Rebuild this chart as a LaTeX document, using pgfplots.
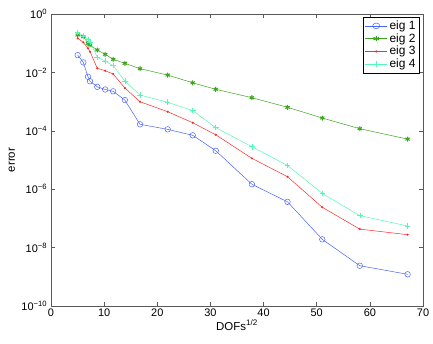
\documentclass[border=0pt]{standalone}
\usepackage{fontspec}
\setmainfont{Liberation Sans}
\usepackage{pgfplots}
\pgfplotsset{compat=1.18}
\definecolor{cb}{RGB}{70,100,255}
\definecolor{cg}{RGB}{60,165,30}
\definecolor{cr}{RGB}{255,40,40}
\definecolor{cc}{RGB}{80,250,180}
\begin{document}
\fontsize{11}{13}\selectfont
\begin{tikzpicture}
\begin{axis}[name=ax,
  scale only axis, width=372bp, height=292bp,
  ymode=log, xmin=0, xmax=70, ymin=1e-10, ymax=1,
  xtick={0,10,...,70},
  ytick={1,1e-2,1e-4,1e-6,1e-8,1e-10},
  yticklabels={10\textsuperscript{0},10\textsuperscript{−2},10\textsuperscript{−4},10\textsuperscript{−6},10\textsuperscript{−8},10\textsuperscript{−10}},
  minor ytick={}, yminorticks=false,
  tick align=inside, tick pos=both,
  major tick length=4bp,
  axis line style={gray!70!black, line width=0.6pt},
  every tick/.style={gray!70!black, line width=0.5pt},
  /pgf/number format/assume math mode=true,
  ticklabel style={font=\fontsize{11}{13}\selectfont},
  xticklabel style={yshift=1bp},
  xlabel={DOFs\textsuperscript{1/2}}, ylabel={error},
  label style={font=\fontsize{11.5}{13}\selectfont},
  xlabel style={yshift=4bp},
  ylabel style={yshift=-1bp},
  legend style={font=\fontsize{12}{14}\selectfont, draw=black, line width=0.6pt, inner sep=1.5pt, row sep=-1.5pt, at={(0.99,0.99)}, anchor=north east},
  legend image post style={xscale=1.3},
  legend cell align=left,
]
\addplot[cb, line width=0.5pt, mark=o, mark size=2.8pt, mark options={line width=0.5pt}] coordinates {
(5.02,3.9e-2)(6.08,2.2e-2)(6.96,7.1e-3)(7.34,5.0e-3)(8.71,3.2e-3)(10.2,2.6e-3)(11.7,2.25e-3)(13.9,1.13e-3)(16.75,1.67e-4)(21.96,1.12e-4)(26.67,7.0e-5)(31.0,2.08e-5)(37.8,1.48e-6)(44.5,3.7e-7)(51.05,1.92e-8)(58.1,2.4e-9)(67.1,1.22e-9)};
\addlegendentry{eig 1}
\addplot[cg, line width=0.5pt, mark=asterisk, mark size=2.5pt, mark options={line width=1pt}] coordinates {
(5.02,0.191)(6.08,0.167)(6.96,0.099)(7.34,0.0868)(8.71,0.0585)(10.2,0.0417)(11.7,0.0281)(13.9,0.0205)(16.75,0.0134)(21.96,8.1e-3)(26.67,4.4e-3)(31.0,2.64e-3)(37.8,1.36e-3)(44.5,6.4e-4)(51.05,2.74e-4)(58.1,1.18e-4)(67.1,5.2e-5)};
\addlegendentry{eig 2}
\addplot[cr, line width=0.5pt, mark=*, mark size=0.8pt] coordinates {
(5.02,0.147)(6.08,0.107)(6.96,0.0669)(7.34,0.0512)(8.71,0.0138)(10.2,0.0114)(11.7,8.8e-3)(13.9,2.92e-3)(16.75,9.9e-4)(21.96,4.5e-4)(26.67,1.89e-4)(31.0,7.3e-5)(37.8,1.14e-5)(44.5,2.68e-6)(51.05,2.4e-7)(58.1,4.3e-8)(67.1,2.77e-8)};
\addlegendentry{eig 3}
\addplot[cc, line width=0.5pt, mark=+, mark size=2.8pt, mark options={line width=0.5pt}] coordinates {
(5.02,0.236)(6.08,0.177)(6.96,0.136)(7.34,0.112)(8.71,0.0329)(10.2,0.0246)(11.7,0.017)(13.9,5.07e-3)(16.75,1.68e-3)(21.96,9.5e-4)(26.67,4.9e-4)(31.0,1.28e-4)(37.8,2.85e-5)(44.5,6.5e-6)(51.05,7.2e-7)(58.1,1.24e-7)(67.1,5.5e-8)};
\addlegendentry{eig 4}
\end{axis}
\pgfresetboundingbox
\path (ax.south west) ++(-51bp,-38bp) coordinate (bl);
\path (ax.north east) ++(10bp,14bp) coordinate (tr);
\path (bl) rectangle (tr);
\end{tikzpicture}
\end{document}
